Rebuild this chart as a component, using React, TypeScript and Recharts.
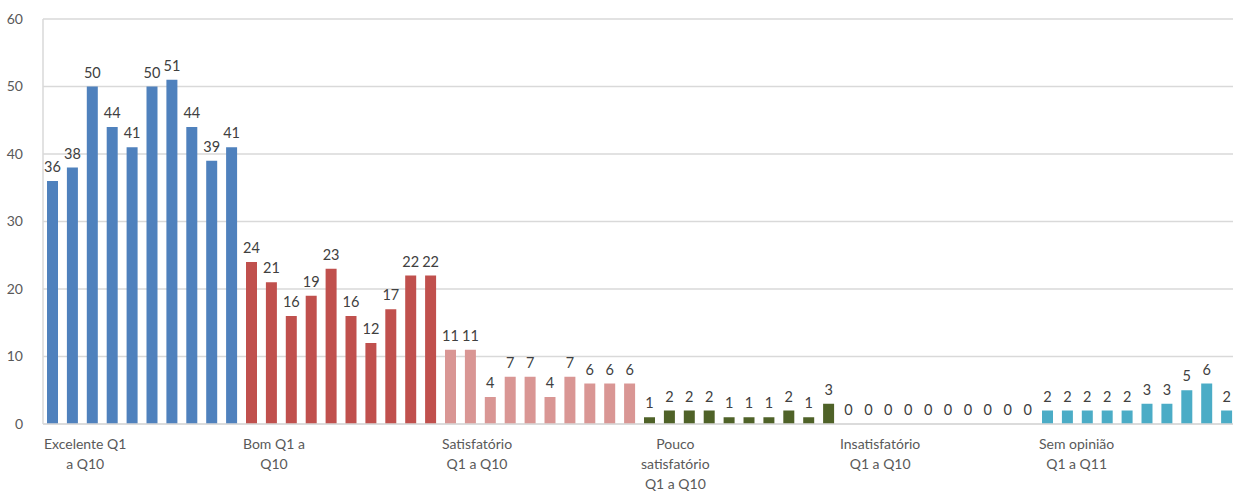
import React from "react";
import { BarChart, Bar, XAxis, YAxis, CartesianGrid, LabelList, Cell } from "recharts";

const excelente = [36, 38, 50, 44, 41, 50, 51, 44, 39, 41];
const bom = [24, 21, 16, 19, 23, 16, 12, 17, 22, 22];
const satisfatorio = [11, 11, 4, 7, 7, 4, 7, 6, 6, 6];
const poucoSatisfatorio = [1, 2, 2, 2, 1, 1, 1, 2, 1, 3];
const insatisfatorio = [0, 0, 0, 0, 0, 0, 0, 0, 0, 0];
const semOpiniao = [2, 2, 2, 2, 2, 3, 3, 5, 6, 2];

const groupLabels = [
  ["Excelente Q1", "a Q10"],
  ["Bom Q1 a", "Q10"],
  ["Satisfatório", "Q1 a Q10"],
  ["Pouco", "satisfatório", "Q1 a Q10"],
  ["Insatisfatório", "Q1 a Q10"],
  ["Sem opinião", "Q1 a Q11"],
];
const groupColors = ["#4F81BD", "#C0504D", "#D99694", "#4F6228", "#4F81BD", "#4BACC6"];
const yTicks = [0, 10, 20, 30, 40, 50, 60];

const groups = [excelente, bom, satisfatorio, poucoSatisfatorio, insatisfatorio, semOpiniao];
const data = groups.flatMap((vals, g) =>
  vals.map((v, i) => ({ name: `${groupLabels[g].join(" ")} #${i + 1}`, value: v, group: g }))
);

const FONT = "Lato";
const W = 1240;
const H = 504;
const Y_W = 43;
const RIGHT = 3;
const band = (W - Y_W - RIGHT) / data.length;

let ctx: CanvasRenderingContext2D | null = null;
function textWidth(s: string, size: number) {
  if (!ctx) ctx = document.createElement("canvas").getContext("2d");
  if (!ctx) return s.length * size * 0.5;
  ctx.font = `${size}px ${FONT}`;
  return ctx.measureText(s).width;
}

function GroupTick(props: any) {
  const { x, y, payload } = props;
  const idx = payload.index;
  if (idx % 10 !== 0) return null;
  const lines = groupLabels[idx / 10];
  const blockW = Math.max(...lines.map((l) => textWidth(l, 14)));
  const left = x - band / 2 + 1;
  return (
    <g>
      {lines.map((l, i) => (
        <text
          key={i}
          x={left + blockW / 2}
          y={y + 17 + i * 20}
          textAnchor="middle"
          fontSize={14}
          fontFamily={FONT}
          fill="#595959"
        >
          {l}
        </text>
      ))}
    </g>
  );
}

export default function App() {
  return (
    <div style={{ position: "absolute", left: 0, top: 0, width: 1233, height: 504, overflow: "hidden", background: "#fff" }}>
      <BarChart width={W} height={H} data={data} margin={{ top: 19, right: RIGHT, left: 0, bottom: 0 }}>
        <CartesianGrid vertical={false} stroke="#D9D9D9" strokeWidth={1.5} />
        <XAxis
          dataKey="name"
          interval={0}
          height={80}
          tickLine={false}
          axisLine={{ stroke: "#D9D9D9", strokeWidth: 1.5 }}
          tick={<GroupTick />}
        />
        <YAxis
          width={Y_W}
          domain={[0, 60]}
          ticks={yTicks}
          tickLine={false}
          tickMargin={14}
          axisLine={{ stroke: "#D9D9D9", strokeWidth: 1.5 }}
          tick={{ fontSize: 14, fontFamily: FONT, fill: "#595959" }}
        />
        <Bar dataKey="value" barSize={11} minPointSize={0.01} isAnimationActive={false}>
          {data.map((d, i) => (
            <Cell key={i} fill={groupColors[d.group]} />
          ))}
          <LabelList dataKey="value" position="top" offset={9} fontSize={14.5} fontFamily={FONT} fill="#404040" />
        </Bar>
      </BarChart>
    </div>
  );
}
